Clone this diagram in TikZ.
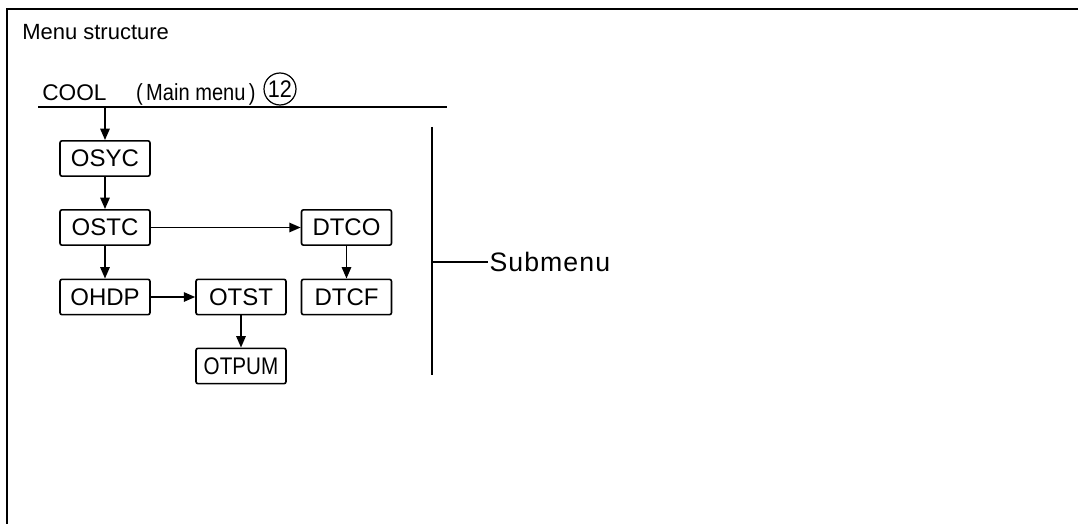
\documentclass[tikz,border=0pt]{standalone}
\usepackage{fontspec}
\setmainfont{Liberation Sans}
\newfontfamily\spacedsans[LetterSpace=4]{Liberation Sans}
\usetikzlibrary{arrows.meta,positioning}
\tikzset{
  menubox/.style={draw, rounded corners=1.5pt, line width=1.2pt,
    minimum width=67.5pt, minimum height=26.5pt, inner sep=0pt,
    font=\fontsize{18}{19}\selectfont},
  menuarrow/.style={-{Triangle[length=8.5pt,width=7pt]}, line width=1.3pt},
  plainline/.style={line width=1.3pt},
}

\begin{document}
\begin{tikzpicture}[x=0.75pt,y=-0.75pt]
    \useasboundingbox (0,0) rectangle (1078,524);
    % frame (only top and left side show)
    \draw[line width=1.7pt] (7,524) -- (7,9) -- (1078,9);
    \node[anchor=base west, inner sep=0pt, font=\fontsize{16.5}{18}\selectfont] (title) at (22,40) {Menu structure};

    % main menu
    \node[anchor=base west, inner sep=0pt, font=\fontsize{17}{19}\selectfont] (cool) at (42,101) {COOL};
    \node[anchor=base west, inner sep=0pt, xscale=0.86, font=\fontsize{17.5}{19}\selectfont] (mainmenu) at (136,101) {(\,Main menu\,)};
    \draw[line width=0.9pt] (280,89) circle (16);
    \node[inner sep=0pt, xscale=0.9, font=\fontsize{18}{19}\selectfont] (num) at (280,89) {12};
    \coordinate (mainL) at (38,107);  \coordinate (mainR) at (447,107);
    \coordinate (mainA) at (105,107);
    \draw[plainline] (mainL) -- (mainR);

    % submenu boxes
    \node[menubox] (osyc) at (105,158.5) {OSYC};
    \node[menubox] (ostc) at (105,227.5) {OSTC};
    \node[menubox] (ohdp) at (105,297) {OHDP};
    \node[menubox] (otst) at (241,297) {OTST};
    \node[menubox] (otpum) at (241,366) {\scalebox{0.86}[1]{OTPUM}};
    \node[menubox] (dtco) at (346.5,227.5) {DTCO};
    \node[menubox] (dtcf) at (346.5,297) {DTCF};

    \draw[menuarrow] (mainA) -- (osyc);
    \draw[menuarrow] (osyc) -- (ostc);
    \draw[menuarrow] (ostc) -- (ohdp);
    \draw[menuarrow] (ostc) -- (dtco);
    \draw[menuarrow] (dtco) -- (dtcf);
    \draw[menuarrow] (ohdp) -- (otst);
    \draw[menuarrow] (otst) -- (otpum);

    % bracket
    \coordinate (subT) at (432,127);  \coordinate (subB) at (432,375);
    \coordinate (subM) at (432,262);
    \node[anchor=west, inner sep=1pt, font=\fontsize{20}{22}\spacedsans] (submenu) at (488,262) {Submenu};
    \draw[plainline] (subT) -- (subB);
    \draw[plainline] (subM) -- (submenu.west);
\end{tikzpicture}
\end{document}
